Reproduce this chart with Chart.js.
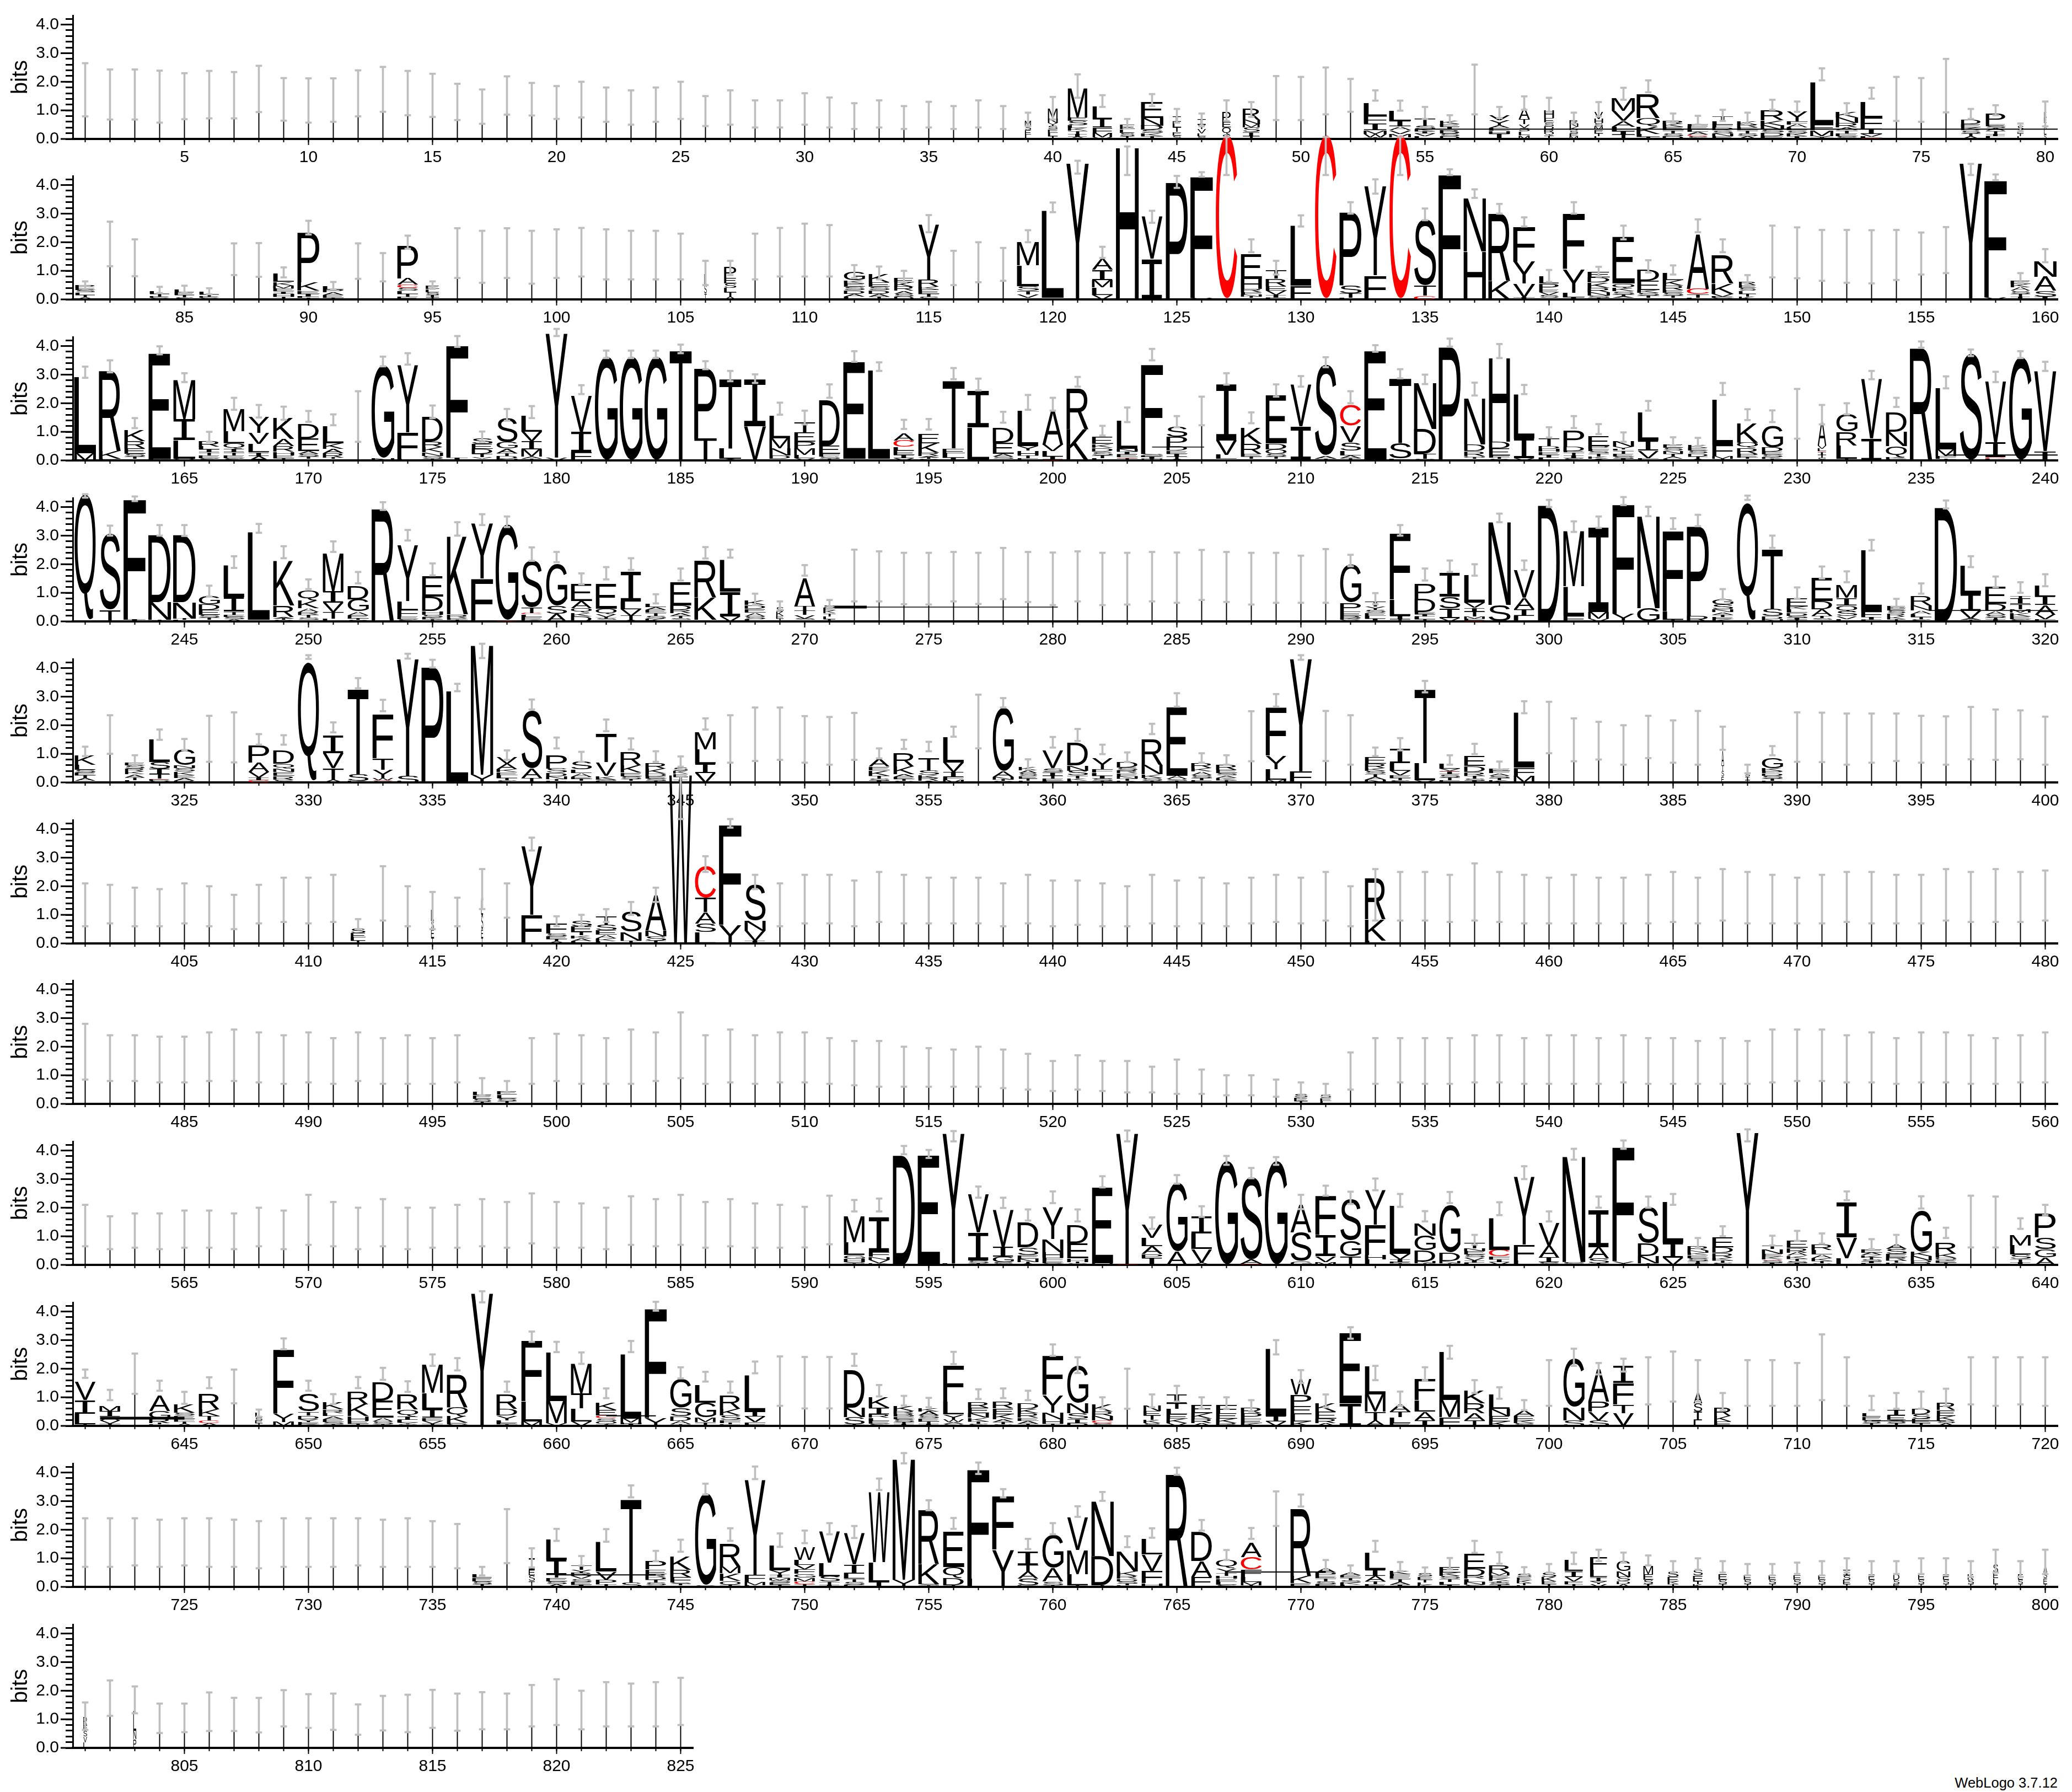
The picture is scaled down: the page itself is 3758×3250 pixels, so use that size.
<!DOCTYPE html>
<html><head><meta charset="utf-8">
<style>html,body{margin:0;padding:0;background:#fff;width:3758px;height:3250px;overflow:hidden}
canvas{position:absolute;left:0}
#credit{position:absolute;right:26px;top:3219px;font:25.5px "Liberation Sans";color:#000}</style>
<script src="https://cdn.jsdelivr.net/npm/chart.js@4/dist/chart.umd.js"></script>
</head><body>
<div id="credit">WebLogo 3.7.12</div>
<script>
const row1High=[2.65,2.43,2.43,2.39,2.3,2.38,2.34,2.56,2.13,2.12,2.12,2.4,2.52,2.38,2.28,1.93,1.73,2.19,1.96,1.85,2.0,1.8,1.7,1.8,2.0,1.5,1.7,1.35,1.35,1.6,1.45,1.25,1.35,1.15,1.3,1.15,1.35,1.15,.92,1.47,2.26,1.53,.7,1.57,1.05,.89,1.35,1.29,2.2,2.17,2.5,2.1,1.7,1.34,1.12,.83,2.6,1.12,1.49,1.44,.92,1.29,1.79,2.05,.89,.81,1.02,.92,1.37,1.31,2.47,1.25,1.79,2.17,2.13,2.8,1.05,1.18,.54,1.31];
const row1Low=[.79,.68,.68,.57,.69,.72,.72,.94,.64,.57,.6,.79,.95,.83,.77,.66,.53,.85,.82,.7,.75,.6,.5,.6,.7,.45,.5,.4,.4,.5,.4,.35,.4,.35,.4,.35,.4,.35,.44,.68,1.44,1.12,.37,1.15,.57,.44,.63,.77,.66,.66,.86,.95,1.34,.99,.7,.5,.86,.73,1.02,.95,.54,.79,1.37,1.63,.57,.5,.63,.54,1.02,.95,2.05,.86,1.41,.63,.6,.93,.7,.83,.26,.44];
const row1Stacks={39:".25 M.2 S.15 E.15 L.15",40:".4 M.35 N.15 Y.1 S.12 E.12 L.12 T.1",41:".8 M1.02 E.12 S.15 L.1 K.1 T.1 I.1 A.08",42:".8 L.45 I.3 F.2 M.15 V.05",43:".6 E.14 L.12 S.12 T.1",44:".9 E.57 N.27 D.15 S.12 K.1 T.1",45:".35 I.2 L.2 T.15 E.13 S.12",46:".35 I.2 Y.15 V.15 L.1 S.1",47:".35 P.35 E.2 Q.25 S.15",48:".7 R.4 N.15 M.12 S.15 I.15 T.1",53:".95 L.45 F.27 I.23 M.13 W.13 T.05",54:".9 L.36 I.2 A.13 V.13 M.13 I.05",55:".85 T.26 S.13 K.07 I.07 V.1 L.1",56:".8 K.13 E.1 I.1 B.12 S.1 D.1",58:".85 V.17 Y.17 A.1 L.1 H.1 I.18",59:".45 A.39 T.17 V.13 S.13 L.13 M.13",60:".4 H.27 E.16 S.13 D.1 R.1 Q.12 T.12",61:".35 R.12 N.12 K.12 S.1 E.1 M.1",62:".35 V.24 H.14 S.12 M.12 E.12 T.1 L.1",63:".95 M.44 V.36 A.2 L.16 I.12 T.15",64:".95 R.86 Q.3 K.26 L.1 T.08",65:".85 R.13 K.11 E.12 T.1 S.1 D.1",66:".85 F.07 E.1 L.1 A.1 C.05 S.1",67:".85 T.16 L.13 F.1 D.1 S.1 N.1 E.1",68:".85 K.11 R.11 E.1 T.1 S.1 A.1",69:".95 R.35 K.18 N.14 S.1 D.13 E.1",70:".85 Y.35 F.11 A.11 L.1 S.1 K.1 I.1",71:".95 L1.5 F.2 M.21 V.05 T.05",72:".9 K.21 N.19 R.16 A.1 T.1 E.1 S.1",73:".9 L.55 F.39 I.19 V.1 L.05 C.03",77:".8 D.16 E.13 K.1 S.1 T.1 A.1",78:".8 P.37 E.07 S.07 A.1 T.1 I.08 L.1",79:".25 S.15 E.1 T.1 L.1",80:".1 K.2 E.2 A.2 L.2 S.15"};
const row1Strays=[[54.6,80.5,.34,2]];

const row2High=[.63,2.72,2.1,.44,.48,.39,1.96,1.97,1.12,2.75,.61,1.96,1.62,2.23,.63,2.49,2.4,2.49,2.4,2.45,2.5,2.45,2.4,2.4,2.3,1.35,1.35,2.3,2.5,2.65,2.6,1.2,1.15,1.0,2.95,1.7,2.0,1.8,2.42,3.39,4.85,1.84,5.35,3.1,4.32,4.45,5.68,2.1,1.35,2.94,5.68,3.4,4.2,5.68,3.18,4.55,3.85,3.34,2.87,1.03,3.4,1.14,2.58,1.37,1.19,2.8,2.1,.85,2.58,2.52,2.43,2.43,2.42,2.43,2.34,2.53,4.74,4.37,.92,1.76];
const row2Low=[.37,1.16,.81,.22,.24,.18,.85,.79,.77,2.27,.35,.72,.63,1.77,.37,.75,.58,.75,.55,.75,.8,.7,.7,.7,.7,.5,.85,.7,.8,.8,.8,.75,.7,.6,2.35,.5,.6,.65,2.0,3.05,4.4,1.45,4.35,2.68,3.9,4.29,4.35,1.65,.87,2.55,4.35,3.0,3.7,4.35,2.77,4.35,3.55,3.0,2.55,.61,3.0,.8,2.1,.94,.87,2.35,1.65,.5,.77,.74,.65,.58,.56,.68,.87,.92,4.35,4.17,.55,1.3];
const row2Stacks={81:".8 P.1 E.08 S.08 L.08 T.08 A.08",84:".8 L.1 T.1 E.05 S.05",85:".8 L.1 E.1 T.08 S.08",86:".8 L.1 T.08 E.05 S.05",89:".85 L.3 K.13 M.1 E.1 I.08 H.1 T.1",90:".9 P1.75 K.3 E.1 I.1 L.05 T.05",91:".85 L.12 P.1 A.1 E.1 T.05",94:".85 P1.15 A.22 C.12 S.1 L.1 T.1 E.1",95:".55 E.12 L.1 S.1 I.08 T.08",106:".1 L.4 S.3 T.2",107:".5 P.4 E.2 S.15 L.15 T.15 A.1",112:".85 G.3 K.1 E.12 S.12 D.12 A.1 L.1",113:".85 K.3 E.15 S.12 D.12 A.1 T.1",114:".8 E.15 K.15 R.15 A.1 S.1 D.1",115:".85 Y1.95 R.25 K.1 E.15 T.1 S.1",119:".9 M.84 L.74 S.16 T.12 V.13 I.05",120:".9 L3.1 I.05",121:".92 Y4.85",122:".85 A.39 I.36 M.26 L.26 V.16",123:".92 H5.4",124:".85 V1.5 I1.42",125:".9 P4.16",126:".92 F4.31 V.05",127:".87 C5.77",128:".85 E.87 H.35 R.12 F.08 N.07 T.05 I.05",129:".85 T.29 R.26 E.16 V.16 I.1 L.05",130:".85 L2.14 F.48",131:".87 C5.77",132:".9 P2.6 S.29 T.16 L.05",133:".9 Y3.18 F.84",134:".87 C5.77",135:".9 S2.32 T.35 C.13",136:".92 F4.43",137:".9 N1.9 H1.68",138:".9 R2.4 K.65",139:".9 F1.22 Y.77 V.48 I.08",140:".8 L.25 P.2 E.1 V.1 S.1 I.05",141:".9 F1.97 Y.84 L.16 I.08",142:".9 E.2 D.18 K.18 R.15 N.12 S.08 T.06",143:".9 E1.65 Q.15 K.12 S.1 T.08 A.05 I.05",144:".9 D.39 E.32 K.1 S.1 T.08 I.05",145:".85 L.26 K.19 R.16 E.1 S.1 T.08 I.05",146:".9 A1.94 C.19 T.13 L.05",147:".9 R1.0 K.35 V.1 E.05 S.05",148:".7 R.12 E.1 S.1 L.1 T.1 K.1",157:".92 Y4.85",158:".92 F4.15 V.07",159:".8 E.13 K.12 A.12 S.1 T.1 I.1",160:".9 N.55 A.5 S.2 I.1"};
const row2Strays=[];

const row3High=[3.28,3.5,1.48,3.99,3.05,1.0,2.19,1.94,1.88,1.73,1.61,2.42,3.63,3.75,1.92,4.35,1.01,1.8,1.9,4.6,2.63,3.84,3.84,3.84,4.05,3.47,3.13,3.01,2.02,1.74,2.66,3.82,3.43,1.42,1.45,3.23,2.86,1.7,2.29,2.19,2.92,1.21,1.85,3.9,1.55,2.23,3.05,1.68,2.66,2.95,3.61,2.42,4.03,3.19,3.0,4.26,2.72,4.07,2.64,1.16,1.55,1.27,.98,2.08,.81,.79,2.71,1.79,1.75,2.5,1.94,2.0,3.13,2.19,4.16,2.94,3.88,3.1,3.82,3.45];
const row3Low=[2.89,3.08,1.13,3.71,2.74,.65,1.77,1.5,1.42,1.35,1.23,.65,3.29,3.35,1.48,3.97,.65,1.39,1.48,4.35,2.32,3.58,3.58,3.58,3.75,3.19,2.77,2.71,1.6,1.26,2.19,3.45,3.13,1.1,1.08,2.84,2.45,1.32,1.77,1.74,2.58,.87,1.34,3.5,1.16,1.23,2.65,1.3,2.23,2.58,3.26,2.0,3.8,2.87,2.67,3.98,2.27,3.58,2.32,.8,1.13,.92,.65,1.74,.52,.5,2.29,1.41,1.34,.76,1.26,1.61,2.84,1.87,3.94,2.52,3.65,2.74,3.58,3.13];
const row3Stacks={161:".9 L2.73 M.26",162:".9 R2.84 K.28 E.05",163:".85 K.4 R.26 E.19 S.1 T.08 I.05",164:".9 E3.76 L.05",165:".9 M1.37 I.74 L.66 V.05",166:".85 R.21 L.11 I.1 T.1 E.1 S.08",167:".85 M.77 L.43 Q.19 I.12 T.1 E.1 S.08",168:".85 Y.57 V.39 L.29 I.13 A.16",169:".85 K.75 A.26 R.19 H.13 E.1 T.08",170:".85 D.5 E.45 A.1 S.1 T.08 I.05",171:".85 L.6 K.2 A.15 R.15 T.05 I.05",173:".92 G3.27 N.07",174:".85 Y2.4 F.94 L.05",175:".85 D.87 R.2 K.18 N.13 S.1 T.05",176:".9 F3.98 I.1",177:".85 S.2 E.17 D.17 T.13 V.06 I.05",178:".85 S.85 G.23 A.16 T.1 D.1 N.05",179:".85 L.57 V.32 I.29 M.26 A.08 T.05",180:".9 Y4.42 V.1",181:".85 V1.27 I.71 F.29",182:".92 G3.65",183:".92 G3.65",184:".92 G3.65",185:".9 T3.9",186:".92 P2.5 T.78",187:".9 T2.47 L.37 A.05",188:".9 I1.65 V1.2",189:".85 L.8 M.35 N.25 D.12 I.05",190:".85 T.35 E.32 P.23 M.23 L.12 V.08",191:".85 D1.62 E.29 F.1 S.08 T.05",192:".9 E3.46 I.05",193:".9 L3.16 I.05",194:".85 A.26 C.22 L.13 E.15 I.11 V.08",195:".85 E.33 K.32 R.11 A.06 T.05 S.05",196:".9 T2.4 E.16 L.16 I.1",197:".9 I1.3 L1.16",198:".85 D.52 E.39 A.1 S.08 I.05",199:".85 L1.25 Y.16 H.16 T.1 E.08",200:".85 A1.23 V.23 L.19 I.1 C.03",201:".9 R1.43 K1.1",202:".85 E.26 K.13 D.13 S.13 T.1 L.08",203:".85 L1.0 N.1 I.1 E.1 C.03 T.08",204:".9 F3.18 S.06 E.06 I.06 W.06",205:".85 S.35 P.32 D.16 E.1 I.1 T.08 A.06",207:".85 I2.0 V.5 L.15 I.05",208:".85 K.57 R.35 E.1 T.08 I.05",209:".85 E1.7 D.2 O.16 S.1 T.08 I.05",210:".85 V1.48 I1.2",211:".9 S3.2 A.1 T.06",212:".85 C.72 V.58 S.29 L.16 A.1 T.08",213:".9 E3.9",214:".9 T2.28 S.55 L.06",215:".9 N1.63 D.87 T.18 S.05",216:".9 P4.03",217:".85 N1.63 D.23 R.16 O.06 T.05 I.05",218:".85 H2.97 D.23 E.25 F.08 T.05 S.05",219:".85 L1.57 I.7 V.07",220:".85 T.27 D.1 H.1 E.1 I.1 L.1",221:".85 P.57 D.15 E.05 T.1 I.1 S.08",222:".85 E.35 P.1 F.08 S.08 T.1 K.08 A.06",223:".85 N.2 Y.1 L.05 T.1 E.1 S.08 I.06",224:".85 L1.0 I.35 V.26 F.08",225:".8 E.12 S.1 N.1 T.1 A.08 L.06",226:".8 K.1 E.1 S.1 D.1 T.08 A.06",227:".85 L1.62 F.39 M.1 T.05",228:".85 K.68 Q.19 R.19 P.08 E.06 T.05 I.05",229:".85 G.77 D.14 E.1 S.1 K.06 T.05",231:".35 A.87 V.11 L.09 C.02 I.1 T.1 S.1",232:".85 G.61 R.48 L.48 T.05",233:".85 V2.1 I.77",234:".85 D.68 N.5 Q.39 K.06 E.05",235:".92 R3.99",236:".85 L2.2 M.23 F.1 T.05",237:".92 S3.75",238:".85 V2.16 I.52 C.06 L.05",239:".92 G3.63",240:".9 V2.84 I.32"};
const row3Strays=[[204,206.1,.47,1.5],[236,240.5,.19,2]];

const row4High=[4.45,3.35,4.37,3.37,3.37,1.25,2.28,3.41,2.63,1.47,2.8,1.73,4.17,3.2,2.03,3.47,3.75,3.67,2.59,2.43,1.68,1.9,2.21,.95,1.85,2.6,2.51,.97,.7,1.97,.75,2.51,2.45,2.4,2.4,2.43,2.4,2.57,2.43,2.41,2.45,2.4,2.4,2.43,2.41,2.5,2.43,2.4,2.4,2.3,2.53,2.33,.99,3.37,1.85,2.13,2.0,3.77,2.13,4.25,3.5,3.67,4.35,4.01,3.61,3.73,1.13,4.4,3.0,1.19,1.92,1.75,2.85,.79,1.33,4.23,2.28,1.57,1.37,1.65];
const row4Low=[4.33,3.0,4.21,3.0,2.99,.87,1.87,3.1,2.21,1.13,2.43,1.33,3.9,2.83,1.61,3.0,3.37,3.3,2.12,2.07,1.3,1.47,1.8,.63,1.43,2.2,2.23,.57,.4,1.6,.47,.7,.7,.6,.59,.7,.61,.78,.68,.57,.7,.57,.59,.7,.65,.75,.68,.59,.65,.65,.65,1.93,.6,3.0,1.43,1.73,1.6,3.47,1.8,4.0,3.13,3.27,4.07,3.68,3.23,3.33,.77,4.25,2.57,.79,1.5,1.37,2.48,.47,.97,3.95,1.9,1.2,1.0,1.23];
const row4Stacks={241:".85 Q4.45",242:".85 S2.69 T.4",243:".92 F4.27 I.06",244:".92 D2.39 N.63 T.05",245:".92 D2.39 N.57 T.05 L.05",246:".85 G.3 D.2 E.17 S.1 T.08 I.05",247:".85 L1.13 I.5 T.1 E.08 S.08 A.08",248:".9 L3.13 I.05",249:".85 K1.58 R.4 A.06 T.05 S.05",250:".85 Q.37 K.27 A.13 R.1 T.1 S.08 I.05",251:".85 M1.35 I.4 V.33 T.22 L.1",252:".85 D.48 G.43 A.13 E.12 T.05 S.05",253:".92 R4.0",254:".85 Y2.0 L.3 F.23 E.1 S.08",255:".85 E.73 D.49 H.13 S.1 K.07 T.07",256:".85 K2.77 R.13 E.06 T.06",257:".9 Y1.95 F1.5",258:".92 G3.37 C.02",259:".85 S1.65 T.2 C.05 L.08 E.1 K.06",260:".85 G1.47 S.27 A.27",261:".85 E.61 A.25 Q.17 K.13 D.17",262:".85 E.87 Q.2 V.1 T.05 S.05 I.05",263:".85 I1.05 L.27 V.23 T.15 A.05",264:".85 L.13 A.1 E.1 T.1 S.1 K.1",265:".85 E.83 D.15 R.12 A.1 T.08 S.06 I.05",266:".9 R1.31 K.78 I.05",267:".85 L1.13 I.87 V.17",268:".85 K.15 D.13 E.13 A.13 S.1 L.08",269:".3 S.15 K.15 E.1 T.1",270:".85 A1.0 T.15 T.15 V.13 S.05 I.05",271:".5 S.08 E.1 K.1 T.1 L.1 I.08",292:".85 G1.33 P.31 E.15 B.1 K.05 S.05",293:".85 T.17 Y.13 S.1 E.1 L.1 I.1",294:".85 F2.33 L.57 I.13 T.07",295:".85 P.53 D.47 E.07 I.08 L.1 T.07",296:".85 I.85 S.41 I.33 V.12",297:".85 L.99 V.17 I.13 T.17 M.08 F.08 C.02",298:".9 N2.95 S.57",299:".85 V.99 A.4 I.23 L.2",300:".9 D4.13",301:".85 M1.95 L1.03 F.2",302:".85 I3.0 M.23 V.1",303:".9 F3.88 Y.27",304:".9 N3.27 G.47",305:".85 F2.85 L.3 T.05",306:".9 P3.17 R.2",307:".85 G.17 S.17 N.1 A.08 T.08 E.08 K.08",308:".85 Q4.17",309:".85 T2.1 S.25 D.1 N.08",310:".85 E.31 K.1 L.13 D.1 S.08 I.07 T.05",311:".85 E.83 D.29 A.23 T.08 S.06 I.05",312:".85 M.45 I.27 Q.2 S.17 V.1 L.08",313:".85 L2.19 F.2 I.1 L.05",314:".75 E.08 E.08 S.1 R.1 K.1 T.08",315:".85 R.33 N.17 A.12 L.1 T.08 S.08",316:".92 D4.05",317:".85 L1.0 I.6 V.27 A.05 T.05",318:".85 E.6 D.25 A.13 S.1 T.08 I.06",319:".85 T.1 I.18 T.18 M.13 K.12 E.1 S.08",320:".85 L.4 I.3 A.33 V.17 F.07"};
const row4Strays=[[271.2,272.5,.5,5],[272.5,280.2,.5,1.5],[315.3,320.5,.38,1.5]];

const row5High=[1.25,2.35,.95,1.85,1.52,2.33,2.45,1.69,1.65,4.45,2.1,3.65,2.89,4.5,4.29,3.45,4.85,1.12,2.9,1.57,1.07,2.2,1.54,1.09,.91,2.24,2.35,2.62,2.62,2.32,2.29,2.43,1.19,1.49,1.42,1.95,3.07,2.95,.81,1.59,1.87,1.32,1.05,2.05,3.12,1.02,.95,2.49,3.09,4.45,2.5,2.35,1.22,1.55,3.55,.95,1.35,.73,2.84,2.82,2.24,2.12,2.0,2.33,2.17,2.5,1.95,.62,1.27,2.45,2.44,2.41,2.41,2.41,2.33,2.31,2.64,2.55,2.52,2.3];
const row5Low=[.92,1.0,.62,1.49,1.13,.72,.7,1.32,1.32,4.32,1.75,3.29,2.49,4.33,4.02,3.19,4.35,.79,2.55,1.19,.72,1.79,1.15,.72,.55,1.85,.69,.75,.79,.69,.62,.79,.84,1.17,1.09,1.6,1.19,2.62,.45,1.22,1.45,.99,.72,1.69,2.65,.69,.62,.74,2.65,4.29,.75,.62,.92,1.12,3.15,.62,.99,.45,2.42,1.02,.74,.8,.62,.85,.69,.62,1.14,.32,.95,.72,.71,.62,.69,.75,.69,.62,.81,.79,.81,.62];
const row5Stacks={321:".85 K.33 L.17 S.1 E.1 T.1 A.1 I.05",323:".8 E.1 S.12 R.1 K.1 A.1 T.1 L.08",324:".85 L.8 S.23 I.2 T.15 C.03 E.05 V.05",325:".85 G.57 N.1 S.12 K.12 E.1 A.1 R.06",328:".85 P.6 A.33 V.2 I.1 C.07",329:".85 D.47 Q.17 N.13 E.13 R.13 S.1",330:".85 Q4.2",331:".85 I.63 V.53 T.4 A.1",332:".85 T3.03 S.23 K.06",333:".85 F1.57 T.4 Y.3 W.07 C.03 S.05",334:".9 Y4.16 S.23",335:".9 P4.1",336:".9 L3.25",337:".92 M4.6 Y.27",338:".85 V.22 A.2 K.1 E.1 L.1 T.08 S.08",339:".85 S2.03 A.33 T.15",340:".85 P.47 S.15 D.13 N.1 T.06 E.05",341:".85 S.27 L.13 A.13 E.08 T.07 I.05",342:".85 T1.0 V.48 K.13 S.05 E.05",343:".85 R.47 K.25 E.13 S.1 T.06 I.05",344:".85 R.2 K.18 D.09 E.08 S.07 T.06",345:".6 S.13 K.1 E.1 T.1 I.1",346:".85 M.6 L.5 I.33 V.33",353:".85 A.28 E.13 K.18 T.1 S.08 I.06",354:".85 R.47 K.27 A.1 E.07 T.06 S.06",355:".85 T.45 S.15 K.1 R.11 A.05",356:".85 L.9 V.33 I.17 F.1 M.09",358:".85 G2.23 A.2 N.1 T.05 S.05",359:".75 K.12 A.1 S.1 E.08 T.08 L.06",360:".85 V.63 S.13 I.13 T.1 E.08 L.06",361:".85 D.81 N.18 S.17 T.1 K.08 L.06",362:".85 Y.4 F.13 L.1 I.1 S.08 T.06",363:".85 D.2 S.1 R.1 E.1 N.08 T.08 K.06",364:".85 R.9 N.33 K.13 S.1 T.06",365:".85 E2.43 A.13 S.06 T.05",366:".85 R.17 K.13 A.12 S.1 T.08 E.08",367:".85 R.18 E.13 S.08 A.08 K.08 T.08",369:".85 F1.71 Y.47 L.37 M.1",370:".9 Y4.0 F.39",373:".85 E.23 R.15 K.1 S.1 T.1 A.1 N.1",374:".85 I.5 L.28 V.15 E.1 T.08 S.07",375:".85 T2.62 L.6 V.08",376:".85 L.17 V.08 C.03 I.1 S.1 T.1 E.08",377:".85 E.35 D.21 R.13 T.1 S.08 I.06",378:".85 E.08 F.08 A.08 S.08 T.08 K.08",379:".85 L1.97 F.3 M.22",387:".1 A.5 T.2 S.2 E.2",388:".2 S.12 I.12 T.08",389:".85 G.35 K.1 P.08 D.08 S.1 T.08 E.06"};
const row5Strays=[];

const row6High=[2.1,2.05,1.95,1.9,2.1,2.0,1.7,2.05,2.3,2.3,2.4,.85,2.7,2.0,1.8,1.6,2.6,2.1,3.7,.95,1.0,1.2,1.45,1.95,5.85,3.05,4.35,2.4,2.1,2.4,2.4,2.2,2.5,2.4,2.3,2.3,2.3,2.1,2.4,2.2,2.2,2.1,2.0,2.4,2.2,2.3,2.1,2.3,2.4,2.3,2.5,2.0,2.6,2.5,2.5,2.4,2.8,2.5,2.4,2.3,2.4,2.3,2.3,2.4,2.5,2.3,2.6,2.5,2.4,2.3,2.4,2.5,2.5,2.4,2.4,2.6,2.5,2.6,2.5,2.55];
const row6Low=[.6,.7,.6,.6,.7,.6,.5,.7,.75,.7,.75,.5,.8,.6,.5,.6,1.2,.9,3.25,.6,.6,.75,1.0,1.45,4.35,2.5,4.05,1.9,.6,.7,.7,.6,.75,.7,.7,.7,.7,.6,.7,.6,.65,.6,.6,.7,.6,.7,.6,.7,.75,.7,.8,.6,.8,.8,.8,.75,.8,.75,.7,.7,.7,.7,.7,.7,.75,.7,.8,.7,.7,.7,.7,.75,.7,.7,.7,.8,.75,.75,.75,.8];
const row6Stacks={412:".6 S.15 E.15 L.12 T.1",415:".12 L.4 S.3 E.3 T.2",417:".08 A.7 L.5 S.5 E.3 T.2",419:".85 Y2.45 F1.0",420:".85 F.35 S.1 E.1 T.08 A.07",421:".85 S.2 E.2 T.12 K.1 A.1 L.08",422:".85 T.3 S.2 E.15 A.12 K.1 L.08",423:".85 S.7 N.3 T.1",424:".85 A1.25 N.2 S.15 T.1",425:".92 W6.0",426:".85 C1.1 T.5 A.4 S.3 L.4",427:".92 F3.55 Y.65",428:".85 S1.25 N.35 V.35 I.1",453:".85 R1.45 K.75 L.1"};
const row6Strays=[];

const row7High=[2.8,2.4,2.4,2.35,2.35,2.5,2.6,2.5,2.4,2.5,2.3,2.5,2.3,2.4,2.3,2.4,.9,.8,2.3,2.45,2.4,2.3,2.6,2.5,3.2,2.4,2.6,2.4,2.5,2.5,2.3,2.2,2.2,2.0,1.95,1.9,2.0,1.9,1.75,1.5,1.7,1.5,1.5,1.3,1.55,1.2,1.0,1.0,.85,.75,.7,1.8,2.3,2.3,2.3,2.3,2.4,2.4,2.3,2.4,2.4,2.3,2.4,2.3,2.3,2.2,2.3,2.2,2.6,2.6,2.6,2.4,2.5,2.3,2.5,2.5,2.4,2.3,2.4,2.5];
const row7Low=[.85,.8,.8,.75,.75,.8,.8,.75,.7,.75,.7,.8,.7,.7,.7,.75,.3,.4,.7,.8,.7,.7,.7,.8,.9,.7,.75,.7,.75,.75,.7,.65,.6,.6,.6,.6,.6,.55,.5,.45,.5,.45,.4,.4,.35,.35,.3,.3,.25,.15,.3,.5,.7,.75,.7,.7,.75,.75,.7,.7,.7,.7,.75,.7,.7,.7,.7,.7,.75,.8,.8,.75,.75,.7,.75,.75,.7,.7,.75,.75];
const row7Stacks={497:".75 L.12 E.12 S.1 T.08",498:".8 E.12 L.12 S.1 T.1",530:".55 S.12 E.12 T.1",531:".45 S.12 E.1 L.1"};
const row7Strays=[];

const row8High=[2.1,1.7,1.8,1.8,1.9,1.9,1.8,2.0,1.9,2.45,2.2,2.0,2.3,2.0,2.0,2.1,2.3,2.2,2.5,2.2,2.15,2.0,2.4,2.3,2.45,2.2,2.3,2.15,2.1,2.03,2.42,2.27,2.32,4.16,4.02,4.68,2.74,2.35,1.94,2.57,1.94,3.1,4.7,1.66,3.14,2.05,3.81,3.39,3.77,2.45,2.77,2.56,3.02,2.48,1.88,2.55,1.05,2.19,3.45,1.87,4.06,2.39,4.35,2.39,2.48,.94,1.35,4.74,1.02,1.19,1.1,2.57,.9,1.05,2.4,1.3,2.42,2.39,1.63,2.1];
const row8Low=[.65,.55,.6,.55,.6,.6,.55,.65,.55,.7,.65,.55,.65,.55,.6,.6,.65,.6,.75,.6,.6,.55,.7,.65,.7,.6,.65,.6,.6,.61,.72,1.87,1.87,3.87,3.74,4.32,2.35,1.99,1.55,2.16,1.52,2.71,4.32,1.26,2.84,1.68,3.5,3.03,3.5,1.95,2.42,2.13,2.61,2.03,1.52,2.16,.71,1.74,3.0,1.52,3.68,2.0,4.06,2.0,2.1,.58,1.0,4.32,.68,.84,.74,2.26,.55,.65,1.97,.94,.61,.61,1.26,1.74];
const row8Stacks={592:".85 M.92 L.45 G.13 H.11 S.05 T.05",593:".85 I1.25 F.16 N.1 V.12 K.06",594:".9 D3.9",595:".9 E3.86 T.04",596:".9 Y4.63 L.05",597:".85 V1.35 I.99 S.1 T.05",598:".85 V1.32 I.35 G.19 S.1",599:".85 D.87 S.26 E.13 N.12 T.05 A.05",600:".85 Y1.13 N.45 H.19 F.13 E.08 S.05",601:".85 D.65 E.52 H.13 T.05 S.05",602:".85 E2.68 Q.06",603:".9 Y4.65 C.03",604:".85 V.48 L.29 A.27 P.13 I.26",605:".85 G2.42 A.47",606:".85 I.6 L.55 V.48 A.07",607:".92 G3.65",608:".9 S2.9 A.14 C.03",609:".92 G3.65",610:".85 A.98 S1.0 G.13",611:".85 F1.37 I.74 V.21 M.1",612:".85 S1.45 G.55 T.3",613:".85 Y1.22 F1.06 H.16 L.19",614:".85 L1.7 V.19 I.1 E.05 T.05",615:".85 N.42 G.52 D.39 N.07 T.05",616:".85 G1.66 D.29 N.08 T.05",617:".85 T.2 N.1 E.12 S.1 V.1 I.08 L.08",618:".85 L1.13 C.23 F.1 I.1 V.1",619:".85 Y2.42 F.55 L.16",620:".85 V.79 A.42 I.16 S.1",621:".92 N3.75 S.1",622:".85 I1.32 A.39 S.18 T.05",623:".9 F4.05 Y.13",624:".85 S1.26 D.45 N.26 T.05",625:".85 L1.46 I.52 V.25",626:".85 R.16 N.08 K.08 E.1 S.1 T.08 I.06",627:".85 E.34 D.19 R.16 K.1 T.08 S.08",628:".9 Y4.71",629:".85 T.12 N.16 E.1 K.1 C.03 S.08 I.08",630:".85 E.26 R.16 A.11 K.1 T.08 S.08 I.06",631:".85 R.21 L.16 A.13 K.1 T.08 S.06",632:".85 I1.24 V.74 L.23",633:".85 E.13 A.09 K.08 T.07 S.07 I.07 L.05",634:".85 A.16 S.17 E.12 R.11 T.08 K.08",635:".85 G1.45 K.16 N.14 D.08 R.08",636:".85 R.39 K.14 Q.1 E.08 T.07",639:".85 M.37 L.32 S.16 T.1 I.1",640:".85 P.85 S.42 G.29 A.26"};
const row8Strays=[];

const row9High=[1.97,1.26,2.53,1.58,1.19,1.7,1.97,.57,3.06,1.58,1.11,1.71,2.03,1.56,2.5,2.37,4.71,1.55,3.3,2.94,2.57,1.31,2.97,4.34,2.05,1.89,1.55,2.25,2.43,2.41,2.41,2.52,1.43,1.05,.98,2.59,1.28,1.31,1.23,2.85,2.4,1.0,2.0,1.1,1.4,1.0,1.0,.9,3.0,1.95,1.1,3.45,2.1,1.2,2.05,2.8,1.6,1.35,.9,2.3,2.7,2.2,2.35,2.4,2.6,2.3,1.15,2.3,2.3,2.2,3.2,2.4,1.05,1.15,1.2,1.3,2.4,2.4,2.4,2.4];
const row9Low=[1.68,.9,1.12,1.23,.77,1.32,.79,.32,2.68,1.23,.76,1.32,1.61,1.19,2.1,1.94,4.32,1.19,2.94,2.58,2.17,.97,2.58,4.03,1.66,1.55,1.16,1.84,.7,.61,.61,2.1,1.03,.71,.65,2.16,.94,.97,.9,2.45,1.85,.6,.6,.65,.85,.6,.6,.5,2.5,1.5,.65,3.05,1.6,.7,1.6,2.35,1.15,.95,.55,.7,2.1,1.8,1.9,.75,.85,.85,.55,.7,.7,.7,.9,.7,.55,.6,.6,.7,.75,.7,.75,.7];
const row9Stacks={641:".85 V.66 I.48 L.37 T.05",642:".85 M.2 I.18 A.13 V.11 T.08",644:".85 A.55 G.26 R.16 T.05 E.05",645:".85 K.29 S.1 E.1 F.1 T.08 A.08",646:".85 R.55 K.23 T.14 C.1 A.1",648:".3 L.15 S.1 E.1 T.1",649:".85 F2.26 Y.29 M.14",650:".85 S.61 T.13 D.13 Y.1 E.08 K.06",651:".85 K.26 R.13 L.1 A.1 E.1 S.08 T.06",652:".85 R.45 K.42 H.16 E.1 T.08",653:".85 D.65 E.61 A.13 S.1 T.05",654:".85 R.52 Q.23 I.13 L.1 Y.06 S.05",655:".85 M1.0 L.58 I.29 E.1 V.1 T.08",656:".85 R1.16 Q.32 K.23 E.06 V.05",657:".9 Y4.72",658:".85 R.5 D.23 Y.16 L.1 E.05 T.05",659:".85 F2.13 L.71 M.15",660:".85 L1.74 M.77 V.1",661:".85 M1.06 T.52 L.45 V.16",662:".85 K.26 E.19 C.1 S.1 Q.1 T.06",663:".85 L2.29 M.14 H.06 I.06",664:".9 F3.88 Y.28",665:".85 G.99 S.29 D.16 A.13 T.05",666:".85 L.63 G.52 M.16 T.13",667:".85 R.47 K.23 S.16 F.1 T.05 E.05",668:".85 L1.32 I.16 V.19 F.13",672:".85 D1.34 N.32 S.26 T.05",673:".85 K.37 I.23 R.13 L.1 E.1 S.08",674:".85 K.18 R.1 B.1 E.08 S.1 T.08 I.06",675:".85 K.13 A.14 S.1 E.1 T.08 I.08",676:".85 F1.29 L.45 Y.16 W.1 A.08 S.06",677:".85 R.19 E.19 N.15 K.13 T.08 S.08",678:".85 R.23 E.21 K.17 A.1 T.08 S.06",679:".85 D.19 K.16 R.16 E.1 A.1 T.08",680:".85 F1.37 Y.61 N.23 H.16 T.08",681:".85 G1.3 N.35 S.2 I.15 D.1",682:".85 K.25 R.15 N.15 C.1 S.1",684:".7 N.2 E.15 T.15 K.12 S.1",685:".85 I.3 T.2 L.2 E.15 K.15 V.1",686:".85 E.3 K.2 R.15 A.1",687:".85 F.3 E.2 K.15 R.1",688:".85 R.2 P.2 E.15 K.1",689:".85 L2.4 I.2 V.15",690:".85 W.55 P.4 E.3 L.25 K.15",691:".85 K.3 E.25 R.15 A.1",692:".9 E2.5 I.8",693:".85 L1.0 M.6 T.3 A.2",694:".85 A.25 T.2 L.2 E.1",695:".85 F.75 L.4 A.3 I.2",696:".85 L1.7 M.6 F.3",697:".85 K.45 R.35 A.25 T.2",698:".85 L.5 N.25 E.2 K.15",699:".85 A.2 E.15 K.1 S.1",701:".85 G1.7 N.45 S.2",702:".85 A1.15 P.35 V.3 S.2",703:".85 I.6 F.75 T.3 V.45",706:".35 A.4 S.3 I.3 L.2",707:".7 R.3 K.2 E.15",713:".75 L.12 E.12 S.1 T.1",714:".75 I.2 E.15 S.12 T.1",715:".75 D.2 S.15 E.15 T.1",716:".75 R.25 E.2 K.15 S.1 A.1"};
const row9Strays=[[641.6,645,.27,5],[662,664,.35,2],[713,716,.18,1.5]];

const row10High=[2.4,2.4,2.4,2.35,2.4,2.4,2.35,2.3,2.4,2.4,2.4,2.4,2.35,2.4,2.3,2.2,.7,2.72,1.35,2.03,1.08,2.02,3.55,1.26,1.65,3.61,2.05,4.21,1.87,1.97,2.23,2.13,3.79,4.68,3.03,2.41,4.35,3.42,1.68,2.23,2.82,3.32,1.77,2.05,4.17,2.34,1.29,2.06,3.34,3.23,.94,.75,1.61,.87,.68,1.01,1.61,1.21,.69,.8,1.2,1.3,1.2,1.1,.9,1.0,.9,.8,.8,.85,.9,1.0,.9,.9,1.0,1.0,.9,1.3,.9,1.3];
const row10Low=[.7,.7,.75,.7,.75,.7,.7,.65,.7,.7,.7,.75,.7,.7,.7,.65,.4,.83,.68,1.61,.74,1.58,3.13,.9,1.23,3.23,1.61,3.77,1.4,1.53,1.84,1.71,3.39,4.32,2.68,2.03,3.95,3.13,1.32,1.84,2.45,3.01,1.39,1.72,3.92,1.97,.94,1.68,2.13,2.81,.61,.45,1.23,.55,.42,.61,1.19,.81,.42,.5,.8,.9,.85,.75,.5,.6,.5,.4,.4,.45,.4,.5,.4,.45,.45,.4,.35,.5,.35,.45];
const row10Stacks={737:".8 L.12 E.12 S.1 T.1",739:".25 I.4 E.2 S.2 T.2",740:".85 L.74 I.52 T.1 E.12 S.1 A.1",741:".85 T.16 Y.11 R.11 V.1 S.1 E.1 I.08",742:".85 L1.05 V.28 P.16 T.1",743:".85 T2.94 S.16",744:".85 P.29 E.16 R.1 D.1 T.1 S.1 I.05",745:".85 K.47 R.26 F.19 S.05 T.05 I.05",746:".85 G3.25 S.05",747:".85 R.81 M.23 K.26 O.14 T.08",748:".85 Y3.37 F.24 M.13 L.05",749:".85 L.87 Y.16 I.1 M.08 S.08 E.08 T.08",750:".85 W.46 L.17 V.16 F.16 G.13 M.13 C.1 T.1",751:".85 V1.1 L.47 S.19 T.1 I.08",752:".85 V1.1 I.32 L.19 T.1 S.1 E.08",753:".85 W2.5 L.71 I.16",754:".92 M4.29 Y.25",755:".85 R1.92 K.71 S.05 T.05",756:".85 E1.26 Q.39 D.26 T.05",757:".9 F3.87 L.29",758:".9 F1.9 Y1.32",759:".85 I.47 T.23 A.26 S.23 E.05",760:".85 G1.16 A.48 S.13 T.06",761:".85 V1.16 M.85 L.39 T.05",762:".9 N1.94 D1.03 T.05",763:".85 N.71 K.16 R.1 D.08 S.08 T.06 E.06",764:".85 L.55 V.58 F.42 H.13",765:".9 R4.0",766:".85 D1.02 A.55 E.35",767:".85 Q.29 Y.16 T.1 H.1 E.1 L.1 S.08",768:".85 A.5 C.43 F.26 L.17 M.13 T.05",770:".85 R2.39 K.26 E.13",771:".85 A.16 P.13 E.08 T.1 S.1 F.1",772:".85 A.1 E.08 T.08 S.08 K.08 L.08",773:".85 L.61 I.21 A.19 T.1 E.1",774:".85 K.13 F.07 E.1 T.1 A.1 I.08",775:".6 S.12 E.1 T.1 L.08 K.08",776:".85 E.19 K.13 S.1 T.1 L.1 I.08",777:".85 E.52 D.26 R.1 L.1 N.1 S.08",778:".85 R.26 M.1 E.1 K.1 I.05 S.08 T.08",779:".6 S.12 E.1 K.1 T.08 L.06",780:".6 S.15 K.15 E.1 T.1",781:".75 L.4 I.2 V.15 F.1 T.1",782:".7 F.45 L.25 I.15 Y.1 V.1",783:".55 G.35 N.2 S.15 D.1 A.1",784:".4 M.3 E.2 S.15 I.1",785:".45 S.2 E.15 K.1 T.1",786:".4 S.2 E.2 T.1 K.1",787:".35 E.2 S.15 T.1",788:".3 E.15 S.15 T.1",789:".3 E.15 S.15 T.1",790:".3 E.15 S.15 T.1",791:".3 E.15 S.15 T.1",792:".3 I.2 S.15 E.15 T.1",793:".25 E.2 S.15 T.1",794:".25 D.2 S.15 E.1",795:".25 E.2 S.15 T.1",796:".25 E.2 S.15 T.1",797:".25 K.2 S.15 T.1",798:".2 S.3 E.2 L.2 T.1",799:".2 E.2 S.15 T.1",800:".15 A.3 S.2 E.2 T.1"};
const row10Strays=[[740,744,.42,2],[767,771,.52,2]];

const row11High=[1.59,2.36,2.15,1.55,1.55,1.94,1.75,1.75,2.02,1.88,1.9,1.52,1.82,1.86,2.03,1.9,1.95,1.9,2.2,2.4,2.0,2.3,2.25,2.3,2.45];
const row11Low=[.63,1.12,1.21,.52,.55,.59,.59,.54,.75,.7,.63,.46,.61,.55,.7,.6,.65,.65,.75,.8,.65,.75,.75,.75,.8];
const row11Stacks={801:".15 R.3 E.2 S.2 V.2 L.2",803:".12 L.7 N.3 P.3"};
const row11Strays=[];

const yTickValues=[0,.2,.4,.6,.8,1,1.2,1.4,1.6,1.8,2,2.2,2.4,2.6,2.8,3,3.2,3.4,3.6,3.8,4,4.2];

const rows=[
[1,row1High,row1Low,row1Stacks,row1Strays],[81,row2High,row2Low,row2Stacks,row2Strays],
[161,row3High,row3Low,row3Stacks,row3Strays],[241,row4High,row4Low,row4Stacks,row4Strays],
[321,row5High,row5Low,row5Stacks,row5Strays],[401,row6High,row6Low,row6Stacks,row6Strays],
[481,row7High,row7Low,row7Stacks,row7Strays],[561,row8High,row8Low,row8Stacks,row8Strays],
[641,row9High,row9Low,row9Stacks,row9Strays],[721,row10High,row10Low,row10Stacks,row10Strays],
[801,row11High,row11Low,row11Stacks,row11Strays]];

const metricCache={};
function metrics(ctx,ch){
  if(metricCache[ch])return metricCache[ch];
  ctx.save();ctx.font=fontFor(ch);ctx.textBaseline='alphabetic';ctx.textAlign='left';
  const m=ctx.measureText(ch);ctx.restore();
  return metricCache[ch]={l:m.actualBoundingBoxLeft,r:m.actualBoundingBoxRight,a:m.actualBoundingBoxAscent,d:m.actualBoundingBoxDescent};
}
function fontFor(ch){return ch==='I'?'300px "Liberation Mono"':'300px "Liberation Sans"';}

const logoPlugin={id:'logo',
 beforeDatasetsDraw(chart,args,opts){
  const ctx=chart.ctx,xs=chart.scales.x,ys=chart.scales.y,stacks=opts.stacks;
  ctx.save();
  ctx.strokeStyle='#000';ctx.lineWidth=3;
  ys.ticks.forEach(t=>{if(Math.abs(t.value-Math.round(t.value))<1e-6){const y=ys.getPixelForValue(t.value);
    ctx.beginPath();ctx.moveTo(xs.left-22,y);ctx.lineTo(xs.left,y);ctx.stroke();}});
  ctx.lineWidth=2;
  xs.ticks.forEach(t=>{if(t.value%5===0){const x=xs.getPixelForValue(t.value);
    ctx.beginPath();ctx.moveTo(x,ys.bottom);ctx.lineTo(x,ys.bottom+11);ctx.stroke();}});
  for(const key of Object.keys(stacks)){
    const p=+key,tok=stacks[key].split(' '),w=parseFloat(tok[0]);
    const cw=(xs.getPixelForValue(p+1)-xs.getPixelForValue(p))*w,x0=xs.getPixelForValue(p)-cw/2;
    let v=0;
    for(let i=tok.length-1;i>=1;i--){
      const ch=tok[i][0],h=parseFloat(tok[i].slice(1));
      const top=ys.getPixelForValue(v+h),bot=ys.getPixelForValue(v);
      const m=metrics(ctx,ch);
      ctx.save();ctx.translate(x0,top);ctx.scale(cw/(m.l+m.r),(bot-top)/(m.a+m.d));
      ctx.font=fontFor(ch);ctx.textBaseline='alphabetic';ctx.textAlign='left';
      ctx.fillStyle=ch==='C'?'#ff0000':'#000';
      ctx.fillText(ch,m.l,m.a);ctx.restore();
      v+=h;
    }
  }
  ctx.restore();
 }};

const GRAY='#bebebe',CAP=.03;
rows.forEach((r,ri)=>{
 const [start,high,low,stacks,strays]=r,n=high.length;
 const baseline=251.5+291.8*ri;
 const cv=document.createElement('canvas');cv.width=3758;cv.height=384;cv.style.width='3758px';cv.style.height='384px';
 cv.style.top=(baseline-324)+'px';document.body.appendChild(cv);
 const xv=high.map((_,i)=>start+i);
 const thin=[],stem=[],capHi=[],capLo=[];
 xv.forEach((p,i)=>{
  if(!(p in stacks))thin.push({x:p,y:(high[i]+low[i])/2});
  stem.push({x:p,y:[low[i],high[i]]});
  capHi.push({x:p,y:[high[i]-CAP,high[i]+CAP]});
  capLo.push({x:p,y:[low[i]-CAP,low[i]+CAP]});
 });
 const bar=(data,color,th,order)=>({type:'bar',data,backgroundColor:color,barThickness:th,grouped:false,clip:false,order,borderWidth:0});
 const datasets=[bar(capHi,GRAY,11,1),bar(capLo,GRAY,11,1),bar(stem,GRAY,3,2),bar(thin,'#000',1.3,3)];
 strays.forEach(s=>datasets.push({type:'line',data:[{x:s[0],y:s[2]},{x:s[1],y:s[2]}],borderColor:'#000',borderWidth:s[3],pointRadius:0,clip:false,order:4}));
 const rightEdge=132+45*n;
 new Chart(cv,{type:'bar',data:{datasets},plugins:[logoPlugin],
  options:{responsive:false,animation:false,devicePixelRatio:1,events:[],
   layout:{padding:{top:100,left:0,right:3758-rightEdge,bottom:0}},
   plugins:{legend:{display:false},tooltip:{enabled:false},title:{display:false},logo:{stacks}},
   scales:{
    x:{type:'linear',min:start-.5,max:start+n-.5,offset:false,
       grid:{display:true,offset:false,drawOnChartArea:false,drawTicks:true,tickLength:6,tickWidth:2,tickColor:'#000'},
       border:{display:true,color:'#000',width:4},
       afterBuildTicks:a=>{a.ticks=xv.map(v=>({value:v}));},
       afterFit:a=>{a.height=60;},
       ticks:{autoSkip:false,maxRotation:0,minRotation:0,padding:10,color:'#000',font:{family:'Liberation Sans',size:30},
        callback:v=>v%5===0?String(v):''}},
    y:{type:'linear',min:0,max:4.32,
       grid:{display:true,drawOnChartArea:false,drawTicks:true,tickLength:13,tickWidth:3,tickColor:'#000'},
       border:{display:true,color:'#000',width:3},
       afterBuildTicks:a=>{a.ticks=yTickValues.map(v=>({value:v}));},
       afterFit:a=>{a.width=132;},
       title:{display:true,text:'bits',color:'#000',font:{family:'Liberation Sans',size:40},padding:{top:14,bottom:0}},
       ticks:{autoSkip:false,padding:12,color:'#000',font:{family:'Liberation Sans',size:30},
        callback:v=>Math.abs(v-Math.round(v))<1e-6?v.toFixed(1):''}}
   }}});
});
</script></body></html>
